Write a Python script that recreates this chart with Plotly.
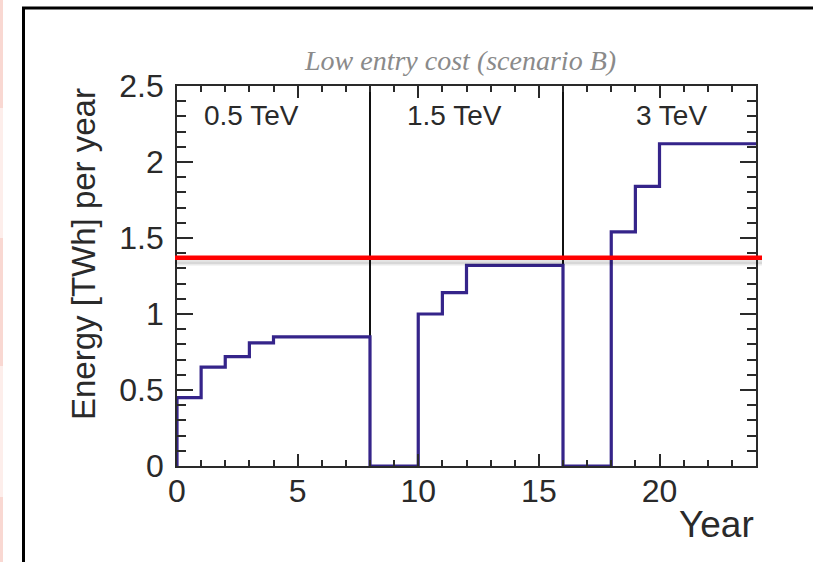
import plotly.graph_objects as go

# ---------------- data ----------------
bin_edges = [0, 1, 2, 3, 4, 8, 10, 11, 12, 16, 18, 19, 20, 24]
energy_twh = [0.45, 0.65, 0.72, 0.81, 0.85, 0.0, 1.00, 1.14, 1.32, 0.0, 1.54, 1.84, 2.12]
stage_boundaries = [8, 16]
stage_labels = ["0.5 TeV", "1.5 TeV", "3 TeV"]
stage_label_x = [3.1, 11.5, 20.5]
reference_level = [1.37]
x_ticks = [0, 5, 10, 15, 20]
y_ticks = [0, 0.5, 1, 1.5, 2, 2.5]
y_tick_text = ["0", "0.5", "1", "1.5", "2", "2.5"]

# ---------------- layout constants ----------------
W, H = 813, 562
L, R, T, B = 177, 57, 86, 96
PW, PH = W - L - R, H - T - B


def px(xp):
    return (xp - L) / PW


def py(yp):
    return (H - B - yp) / PH


FONT = "Liberation Sans, Arial, sans-serif"
TXT = "#2a2a2a"
LINE_COL = "#35248a"

# step-histogram outline
xs = [bin_edges[0]] + bin_edges[:-1] + [bin_edges[-1]]
ys = [0.0] + energy_twh + [energy_twh[-1]]

fig = go.Figure()

# stage separators
for xb in stage_boundaries:
    fig.add_trace(go.Scatter(x=[xb, xb], y=[y_ticks[0], y_ticks[-1]], mode="lines",
                             line=dict(color="#111111", width=2), hoverinfo="skip",
                             showlegend=False))

fig.add_trace(go.Scatter(x=xs, y=ys, mode="lines", line=dict(color=LINE_COL, width=3.2, shape="hv"),
                         showlegend=False))

shapes = []
# red reference line with soft shadow
for off, wdt, op in [(-4, 5, 0.10), (-6, 4, 0.06)]:
    shapes.append(dict(type="line", xref="paper", yref="y", ysizemode="pixel",
                       yanchor=reference_level[0], x0=px(175), x1=px(762), y0=off, y1=off,
                       line=dict(color=f"rgba(0,0,0,{op})", width=wdt), layer="above"))
shapes.append(dict(type="line", xref="paper", yref="y", x0=px(175), x1=px(762),
                   y0=reference_level[0], y1=reference_level[0],
                   line=dict(color="#ff0000", width=4.5), layer="above"))

# outer frame (left + top)
shapes.append(dict(type="line", xref="paper", yref="paper", x0=px(23.5), x1=px(23.5),
                   y0=py(7.5), y1=py(570), line=dict(color="black", width=3)))
shapes.append(dict(type="line", xref="paper", yref="paper", x0=px(22), x1=px(820),
                   y0=py(8), y1=py(8), line=dict(color="black", width=3)))
# pink strip at far left
for (y0p, y1p, col) in [(0, 108, "#f9d8d2"), (108, 238, "#fdeeeb"), (238, 366, "#f9d8d2"),
                        (366, 497, "#fdeeeb"), (497, 562, "#f9d8d2")]:
    shapes.append(dict(type="rect", xref="paper", yref="paper", x0=px(0), x1=px(3),
                       y0=py(y1p), y1=py(y0p), fillcolor=col, line=dict(width=0), layer="below"))

annotations = []
for lab, xl in zip(stage_labels, stage_label_x):
    annotations.append(dict(text=lab, x=xl, y=py(115), xref="x", yref="paper", showarrow=False,
                            font=dict(family=FONT, size=28, color=TXT), xanchor="center",
                            yanchor="middle"))
annotations.append(dict(text="Low entry cost (scenario B)", x=px(460), y=py(60), xref="paper",
                        yref="paper", showarrow=False, xanchor="center", yanchor="middle",
                        font=dict(family="Liberation Serif, Times New Roman, serif", size=28,
                                  color="#8a8a8a", style="italic")))
annotations.append(dict(text="Energy [TWh] per year", x=px(83), y=1.0, xref="paper", yref="paper",
                        textangle=-90, showarrow=False, xanchor="center", yanchor="top",
                        font=dict(family=FONT, size=33, color=TXT)))
annotations.append(dict(text="Year", x=1.0, y=py(524), xref="paper", yref="paper",
                        showarrow=False, xanchor="right", yanchor="middle",
                        font=dict(family=FONT, size=37, color=TXT)))

axis_common = dict(showgrid=False, zeroline=False, showline=True, linecolor="#2a2a2a", linewidth=1.8,
                   mirror="ticks", ticks="inside", tickcolor="#2a2a2a", tickwidth=1.6,
                   tickfont=dict(family=FONT, size=32, color=TXT))

fig.update_layout(
    width=W, height=H, margin=dict(l=L, r=R, t=T, b=B, pad=0),
    paper_bgcolor="white", plot_bgcolor="white",
    xaxis=dict(range=[0, 24], tickvals=x_ticks, ticklen=12, ticklabelstandoff=-4,
               minor=dict(dtick=1, ticks="inside", ticklen=6, tickcolor="#2a2a2a", tickwidth=1.6),
               **axis_common),
    yaxis=dict(range=[0, 2.5], tickvals=y_ticks, ticktext=y_tick_text, ticklen=16, ticklabelstandoff=5,
               minor=dict(dtick=0.1, ticks="inside", ticklen=9, tickcolor="#2a2a2a", tickwidth=1.6),
               **axis_common),
    shapes=shapes, annotations=annotations, showlegend=False,
)

fig.write_html("out.html")
